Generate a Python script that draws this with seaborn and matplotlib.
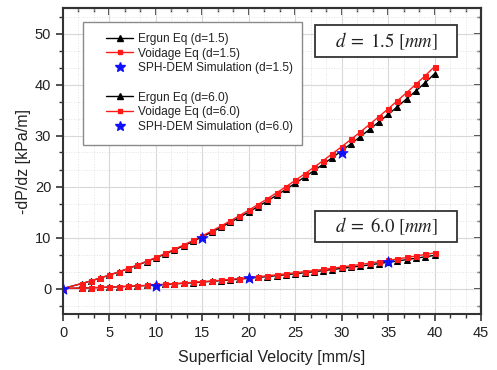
import numpy as np
import pandas as pd
import seaborn as sns
import matplotlib.pyplot as plt
from matplotlib.ticker import MultipleLocator, AutoMinorLocator
from matplotlib.lines import Line2D
from matplotlib.patches import Rectangle

# data
velocity = [0, 2, 3, 4, 5, 6, 7, 8, 9, 10, 11, 12, 13, 14, 15, 16, 17, 18, 19, 20,
            21, 22, 23, 24, 25, 26, 27, 28, 29, 30, 31, 32, 33, 34, 35, 36, 37, 38, 39, 40]

ergun_15 = [0, 0.96, 1.49, 2.04, 2.63, 3.24, 3.89, 4.56, 5.27, 6.00, 6.77, 7.56, 8.39, 9.24,
            10.13, 11.04, 11.99, 12.96, 13.97, 15.00, 16.07, 17.16, 18.29, 19.44, 20.63,
            21.84, 23.09, 24.36, 25.67, 27.00, 28.37, 29.76, 31.19, 32.64, 34.13, 35.64,
            37.19, 38.76, 40.37, 42.10]
voidage_15 = [0, 0.96, 1.50, 2.05, 2.65, 3.27, 3.93, 4.62, 5.34, 6.09, 6.88, 7.69, 8.54, 9.42,
              10.33, 11.27, 12.25, 13.25, 14.29, 15.36, 16.47, 17.60, 18.77, 19.96, 21.19,
              22.45, 23.75, 25.07, 26.43, 27.81, 29.23, 30.68, 32.17, 33.68, 35.23, 36.81,
              38.42, 40.06, 41.74, 43.50]
ergun_60 = [0, 0.09, 0.14, 0.20, 0.27, 0.34, 0.42, 0.50, 0.59, 0.69, 0.79, 0.90, 1.02, 1.14,
            1.27, 1.40, 1.54, 1.69, 1.84, 2.00, 2.17, 2.34, 2.52, 2.70, 2.89, 3.09, 3.29,
            3.50, 3.72, 3.94, 4.17, 4.40, 4.64, 4.89, 5.14, 5.40, 5.67, 5.94, 6.22, 6.50]
voidage_60 = [0, 0.09, 0.14, 0.20, 0.28, 0.35, 0.43, 0.52, 0.61, 0.72, 0.83, 0.94, 1.07, 1.20,
              1.34, 1.48, 1.63, 1.79, 1.95, 2.12, 2.30, 2.49, 2.68, 2.87, 3.08, 3.29, 3.51,
              3.74, 3.97, 4.21, 4.46, 4.71, 4.97, 5.24, 5.51, 5.79, 6.08, 6.37, 6.68, 6.98]

sph_v_15 = [0, 15, 30]
sph_dp_15 = [0, 9.9, 26.5]
sph_v_60 = [10, 20, 35]
sph_dp_60 = [0.55, 2.0, 5.2]

legend_labels = ['Ergun Eq (d=1.5)', 'Voidage Eq (d=1.5)', 'SPH-DEM Simulation (d=1.5)', ' ',
                 'Ergun Eq (d=6.0)', 'Voidage Eq (d=6.0)', 'SPH-DEM Simulation (d=6.0)']

sns.set_style('ticks')
plt.rcParams['font.family'] = ['Liberation Sans', 'DejaVu Sans']
plt.rcParams['mathtext.fontset'] = 'stix'

W, H = 497, 370
fig = plt.figure(figsize=(W / 100, H / 100), dpi=100)
ax = fig.add_axes([63 / W, 1 - 314 / H, 418 / W, 306 / H])


def fbox(x0, y0, x1, y1):
    # pixel box (top-left origin) -> figure fraction rectangle
    return (x0 / W, 1 - y1 / H), (x1 - x0) / W, (y1 - y0) / H


# curves: black Ergun first, red Voidage drawn on top
for ys in [ergun_15, ergun_60]:
    sns.lineplot(x=velocity, y=ys, ax=ax, color='black', lw=1.0, marker='^',
                 markersize=4.5, markeredgecolor='black', zorder=2)
for ys in [voidage_15, voidage_60]:
    sns.lineplot(x=velocity, y=ys, ax=ax, color='#ff1a1a', lw=1.0, marker='s',
                 markersize=3.6, markeredgecolor='#ff1a1a', zorder=3)
sns.scatterplot(x=sph_v_15, y=sph_dp_15, ax=ax, color='#1010ff', marker='*', s=70,
                edgecolor='#1010ff', zorder=4)
sns.scatterplot(x=sph_v_60, y=sph_dp_60, ax=ax, color='#1010ff', marker='*', s=70,
                edgecolor='#1010ff', zorder=4)

ax.set_xlim(0, 45)
ax.set_ylim(-5, 55)
ax.xaxis.set_major_locator(MultipleLocator(5))
ax.yaxis.set_major_locator(MultipleLocator(10))
ax.xaxis.set_minor_locator(AutoMinorLocator(3))
ax.yaxis.set_minor_locator(AutoMinorLocator(3))
ax.tick_params(which='major', direction='out', length=5, width=1.2, labelsize=10.5, colors='#333333')
ax.tick_params(which='minor', direction='out', length=3, width=1.0, colors='#333333')
ax.tick_params(axis='both', labelcolor='#222222')
for s in ax.spines.values():
    s.set_linewidth(1.5)
    s.set_color('#333333')

# inward ticks on top and right
top = ax.secondary_xaxis('top')
right = ax.secondary_yaxis('right')
top.xaxis.set_major_locator(MultipleLocator(5))
top.xaxis.set_minor_locator(AutoMinorLocator(3))
right.yaxis.set_major_locator(MultipleLocator(10))
right.yaxis.set_minor_locator(AutoMinorLocator(3))
top.set_xticklabels([])
right.set_yticklabels([])
for sec in [top, right]:
    sec.tick_params(which='major', direction='in', length=5, width=1.2, colors='#333333')
    sec.tick_params(which='minor', direction='in', length=3, width=1.0, colors='#333333')
    for s in sec.spines.values():
        s.set_linewidth(1.5)
        s.set_color('#333333')

ax.grid(which='major', color='#d8d8d8', lw=0.8)
ax.grid(which='minor', color='#e2e2e2', lw=0.7, ls=':')
ax.set_axisbelow(True)

ax.set_xlabel('Superficial Velocity [mm/s]', fontsize=11.5, labelpad=7, color='#222222')
ax.set_ylabel('-dP/dz [kPa/m]', fontsize=11.5, labelpad=3, color='#222222')

# legend with its own frame
xy, w, h = fbox(83, 22, 302, 145)
ax.add_patch(Rectangle(xy, w, h, transform=fig.transFigure, facecolor='white',
                       edgecolor='#8a8a8a', lw=1.0, clip_on=False, zorder=5))
handles = [
    Line2D([], [], color='black', lw=1, marker='^', ms=4),
    Line2D([], [], color='#ff1a1a', lw=1, marker='s', ms=3),
    Line2D([], [], color='#1010ff', ls='none', marker='*', ms=7),
    Line2D([], [], ls='none'),
    Line2D([], [], color='black', lw=1, marker='^', ms=4),
    Line2D([], [], color='#ff1a1a', lw=1, marker='s', ms=3),
    Line2D([], [], color='#1010ff', ls='none', marker='*', ms=7),
]
leg = ax.legend(handles, legend_labels, loc='upper left', bbox_to_anchor=(106 / W, 1 - 33 / H),
                bbox_transform=fig.transFigure, frameon=False, fontsize=8.6,
                handlelength=2.3, handletextpad=0.35, labelspacing=0.22, borderpad=0,
                borderaxespad=0)
leg.set_zorder(6)
for t in leg.get_texts():
    t.set_color('#222222')

# d annotations
for (x0, y0, x1, y1), txt in [((315, 25, 457, 57), r'$d\;=\;1.5\ [mm]$'),
                              ((315, 211, 457, 242), r'$d\;=\;6.0\ [mm]$')]:
    xy, w, h = fbox(x0, y0, x1, y1)
    ax.add_patch(Rectangle(xy, w, h, transform=fig.transFigure, facecolor='white',
                           edgecolor='#333333', lw=1.3, clip_on=False, zorder=5))
    ax.text(xy[0] + w / 2, xy[1] + h / 2, txt, transform=fig.transFigure, ha='center',
            va='center', fontsize=13.5, color='#222222', zorder=6)

fig.savefig('out.png', dpi=100)
